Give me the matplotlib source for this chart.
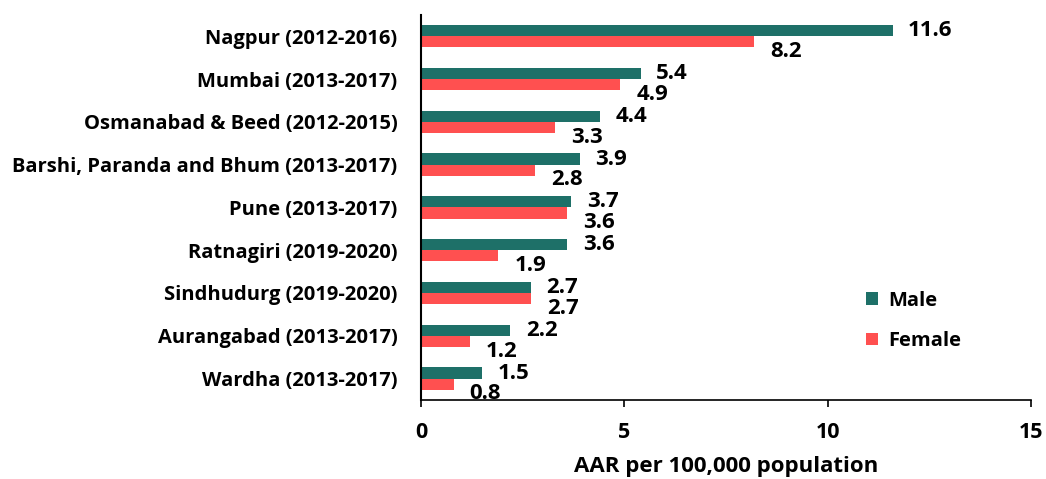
import numpy as np
import matplotlib.pyplot as plt

regions = ["Nagpur (2012-2016)", "Mumbai (2013-2017)", "Osmanabad & Beed (2012-2015)",
           "Barshi, Paranda and Bhum (2013-2017)", "Pune (2013-2017)", "Ratnagiri (2019-2020)",
           "Sindhudurg (2019-2020)", "Aurangabad (2013-2017)", "Wardha (2013-2017)"]
male = [11.6, 5.4, 4.4, 3.9, 3.7, 3.6, 2.7, 2.2, 1.5]
female = [8.2, 4.9, 3.3, 2.8, 3.6, 1.9, 2.7, 1.2, 0.8]

plt.rcParams['font.family'] = ['Open Sans', 'DejaVu Sans']
plt.rcParams['font.weight'] = 'bold'

fig = plt.figure(figsize=(10.46, 4.79), dpi=100)
ax = fig.add_axes([0.4025, 0.165, 0.5832, 0.804])

y = np.arange(len(regions))[::-1]
h = 0.26
ax.barh(y + h / 2, male, height=h, color='#1E7068', label='Male')
ax.barh(y - h / 2, female, height=h, color='#FF5050', label='Female')

for yi, m, f in zip(y, male, female):
    ax.annotate(f"{m:.1f}", (m, yi + h / 2), xytext=(11, 0), textcoords='offset points',
                va='center', ha='left', fontsize=16, fontweight='bold')
    ax.annotate(f"{f:.1f}", (f, yi - h / 2), xytext=(11.5, -7), textcoords='offset points',
                va='center', ha='left', fontsize=16, fontweight='bold')

ax.set_xlim(0, 15)
ax.set_ylim(-0.5, 8.5)
ax.set_xticks([0, 5, 10, 15])
ax.set_yticks(y)
ax.set_yticklabels(regions)
ax.tick_params(axis='y', length=0, pad=17, labelsize=14.5)
ax.tick_params(axis='x', length=5, width=1.2, pad=11, labelsize=15.5)
ax.spines['top'].set_visible(False)
ax.spines['right'].set_visible(False)
ax.spines['left'].set_linewidth(1.5)
ax.spines['bottom'].set_linewidth(1.2)
ax.set_xlabel("AAR per 100,000 population", fontsize=16, fontweight='bold', labelpad=9)

ax.legend(loc='center left', bbox_to_anchor=(0.70, 0.205), frameon=False, fontsize=14.5,
          handlelength=0.6, handleheight=0.6, labelspacing=1.0, handletextpad=0.5)

fig.savefig("out.png", dpi=100)
